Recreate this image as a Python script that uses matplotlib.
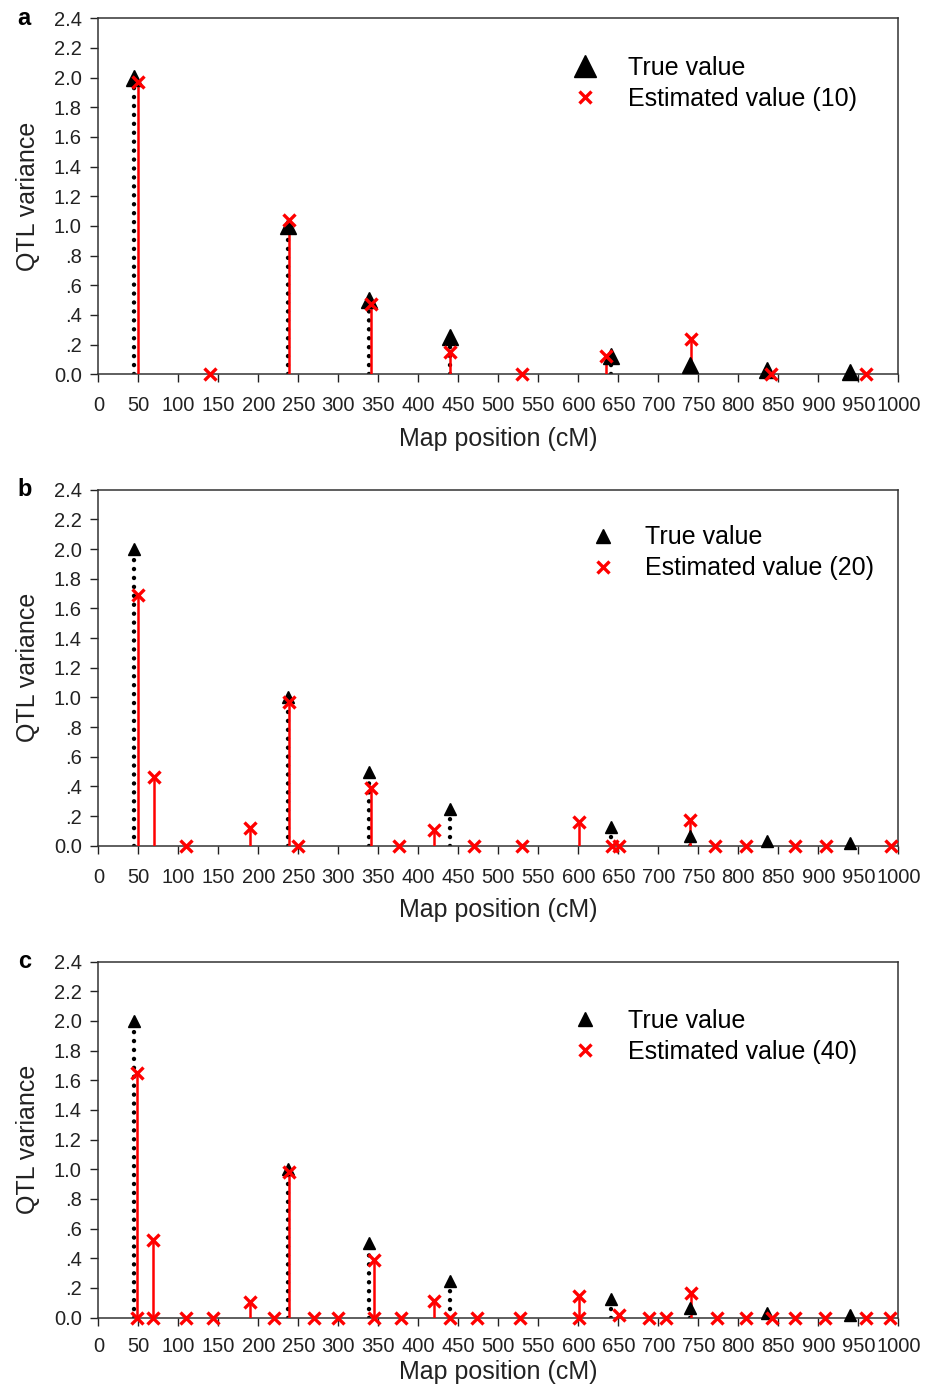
'''
QTL variance along the map: true vs estimated values, three panels.
'''

import matplotlib
matplotlib.use('Agg')
import matplotlib.pyplot as plt
from matplotlib.lines import Line2D

matplotlib.rcParams.update({'font.family': 'Liberation Sans', 'font.size': 14})

# True QTL positions (cM) and variances, same in all panels
true_pos = [45, 237, 338, 440, 641, 740, 836, 940]
true_val = [2.0, 1.0, 0.5, 0.25, 0.125, 0.0625, 0.03125, 0.015625]

# Estimated values, 10 / 20 / 40 QTL
est10_pos = [49, 140, 238, 341, 440, 530, 634, 741, 841, 960]
est10_val = [1.97, 0.0, 1.04, 0.47, 0.15, 0.0, 0.12, 0.235, 0.0, 0.0]

est20_pos = [49, 70, 110, 190, 238, 250, 341, 376, 420, 470,
             530, 601, 642, 651, 739, 771, 810, 871, 910, 991]
est20_val = [1.69, 0.46, 0.0, 0.12, 0.97, 0.0, 0.39, 0.0, 0.105, 0.0,
             0.0, 0.16, 0.0, 0.0, 0.175, 0.0, 0.0, 0.0, 0.0, 0.0]

est40_pos = [48, 48, 68, 68, 110, 143, 190, 220, 238, 270, 300, 344, 344, 378,
             420, 440, 473, 527, 601, 601, 651, 688, 710, 741, 773, 810, 842,
             871, 908, 960, 990]
est40_val = [1.65, 0.0, 0.525, 0.0, 0.0, 0.0, 0.108, 0.0, 0.98, 0.0, 0.0, 0.39,
             0.0, 0.0, 0.115, 0.0, 0.0, 0.0, 0.147, 0.0, 0.018, 0.0, 0.0, 0.169,
             0.0, 0.0, 0.0, 0.0, 0.0, 0.0, 0.0]

# letter, n, positions, values, triangle size (plot, legend), legend anchor,
# x tick pad, x label pad
panels = [('a', '10', est10_pos, est10_val, 12, 16, (0.565, 0.958), 10, 8),
          ('b', '20', est20_pos, est20_val, 9, 10, (0.587, 0.963), 10, 8),
          ('c', '40', est40_pos, est40_val, 9, 10, (0.565, 0.93), 8, 3)]

yticks = [0.0, 0.2, 0.4, 0.6, 0.8, 1.0, 1.2, 1.4, 1.6, 1.8, 2.0, 2.2, 2.4]
ylabels = ['0.0', '.2', '.4', '.6', '.8', '1.0', '1.2', '1.4', '1.6', '1.8',
           '2.0', '2.2', '2.4']
xticks = list(range(0, 1001, 50))

fig = plt.figure(figsize=(9.33, 13.86), dpi=100)
bottoms = [0.730, 0.3898, 0.0493]
height = 0.2569

for (letter, n, epos, evals, tri_ms, leg_ms, anchor, xpad, lpad), bot in zip(panels, bottoms):
    ax = fig.add_axes([0.1054, bot, 0.8574, height])

    # dotted stems for true values
    for x, y in zip(true_pos, true_val):
        ax.plot([x, x], [0, y], color='black', lw=3.2, ls=(0, (0.01, 2.0)),
                dash_capstyle='round', zorder=2)
    # solid red stems for estimates
    for x, y in zip(epos, evals):
        if y > 0:
            ax.plot([x, x], [0, y], color='red', lw=1.8, zorder=3)
    ax.plot(true_pos, true_val, ls='none', marker='^', ms=tri_ms,
            color='black', zorder=4, clip_on=False)
    ax.plot(epos, evals, ls='none', marker='x', ms=8, mew=2.4,
            color='red', zorder=5, clip_on=False)

    ax.set_xlim(0, 1000)
    ax.set_ylim(0, 2.4)
    ax.set_xticks(xticks)
    ax.set_xticklabels([str(v) for v in xticks])
    ax.set_yticks(yticks)
    ax.set_yticklabels(ylabels)
    ax.tick_params(direction='out', length=6, width=1, labelsize=14.5,
                   colors='#222222')
    ax.tick_params(axis='x', pad=xpad)
    ax.tick_params(axis='y', pad=6)
    for sp in ax.spines.values():
        sp.set_color('#333333')
        sp.set_linewidth(1.1)
    ax.set_xlabel('Map position (cM)', fontsize=18, color='#222222', labelpad=lpad)
    ax.set_ylabel('QTL variance', fontsize=18, color='#222222', labelpad=10)

    handles = [Line2D([], [], ls='none', marker='^', ms=leg_ms, color='black'),
               Line2D([], [], ls='none', marker='x', ms=8, mew=2.4, color='red')]
    ax.legend(handles, ['True value', 'Estimated value (%s)' % n],
              loc='upper left', bbox_to_anchor=anchor,
              frameon=False, fontsize=18, handlelength=1.0,
              handletextpad=1.2, labelspacing=0.28)

    fig.text(0.019, bot + height, letter, fontsize=17, fontweight='bold',
             ha='left', va='center')

fig.savefig('out.png', dpi=100)
